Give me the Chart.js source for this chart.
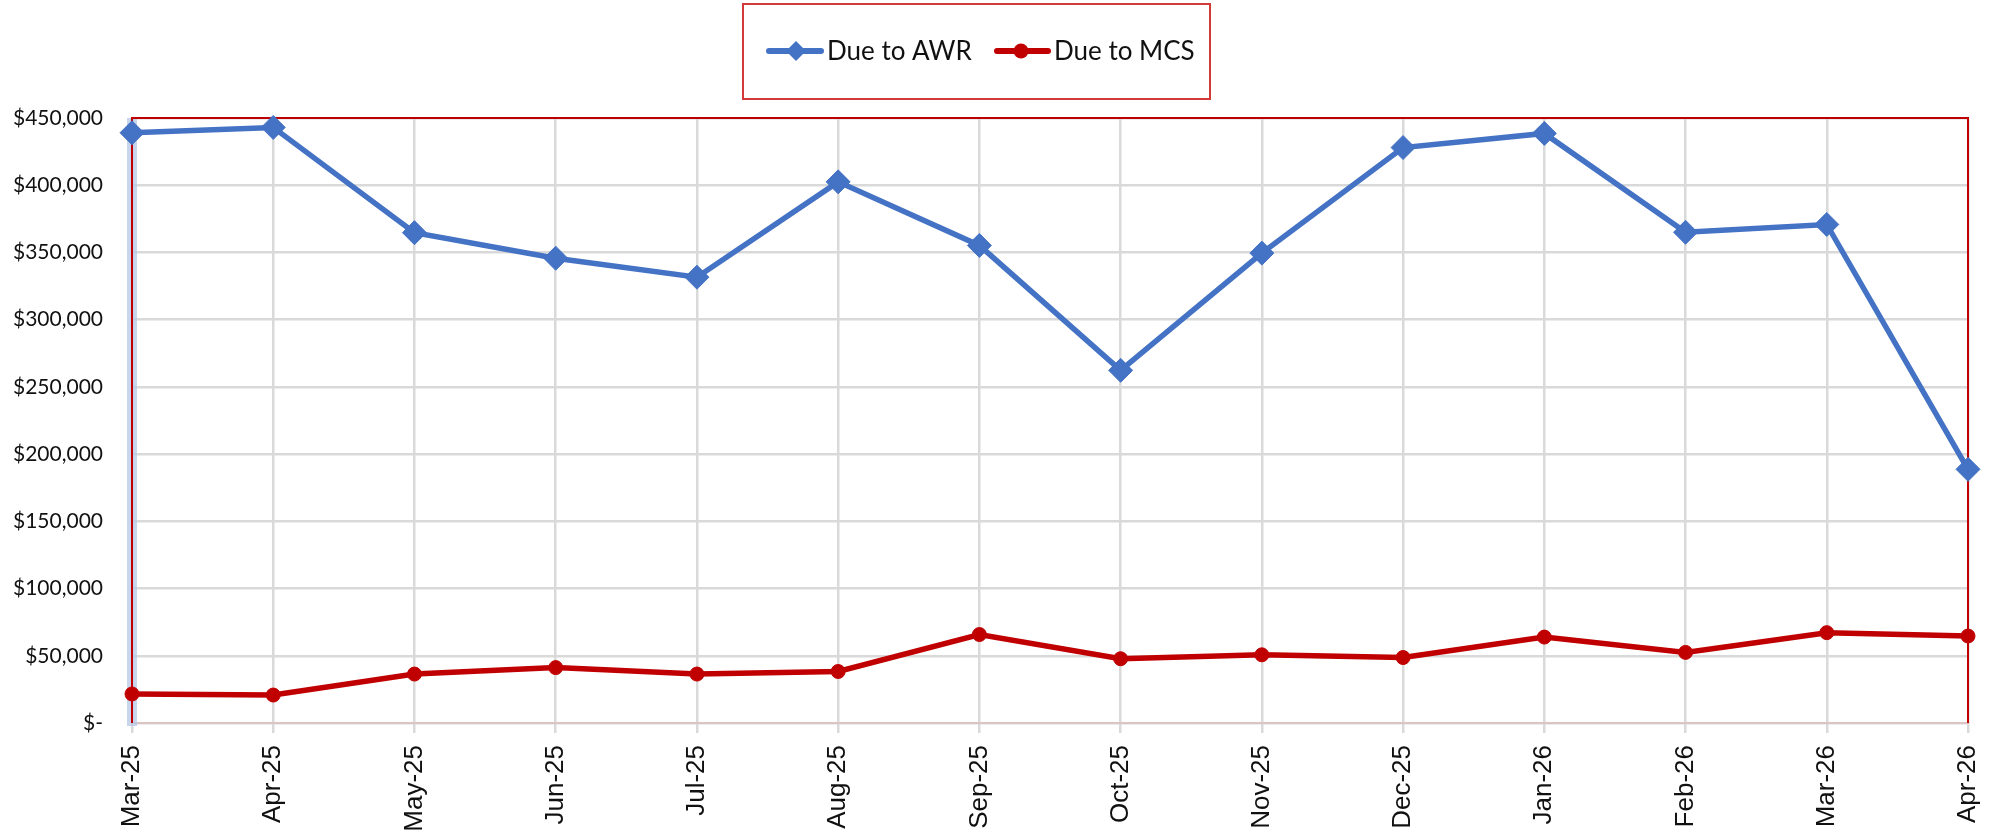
<!DOCTYPE html>
<html>
<head>
<meta charset="utf-8">
<script src="https://cdn.jsdelivr.net/npm/chart.js@4.4.1/dist/chart.umd.min.js"></script>
<style>
  html, body { margin: 0; padding: 0; background: #fff; }
  #wrap { width: 1994px; height: 834px; }
</style>
</head>
<body>
<div id="wrap"><canvas id="myChart" width="1994" height="834"></canvas></div>
<script>
// Maanden op de x-as
const months = ['Mar-25', 'Apr-25', 'May-25', 'Jun-25', 'Jul-25', 'Aug-25', 'Sep-25',
  'Oct-25', 'Nov-25', 'Dec-25', 'Jan-26', 'Feb-26', 'Mar-26', 'Apr-26'];

// Waarden
const dueAWR = [439000, 443000, 364700, 345700, 331600, 402500, 355200,
  262300, 349500, 428000, 438500, 365000, 370800, 188700];
const dueMCS = [21600, 20800, 36400, 41200, 36400, 38300, 65800,
  47800, 50700, 48700, 63900, 52500, 67200, 64700];

// Y-as labels
const yTickValues = [0, 50000, 100000, 150000, 200000, 250000, 300000, 350000, 400000, 450000];
const yTickLabels = ['$-', '$50,000', '$100,000', '$150,000', '$200,000', '$250,000',
  '$300,000', '$350,000', '$400,000', '$450,000'];

const seriesNames = ['Due to AWR', 'Due to MCS'];
const blue = '#4472C4';
const red = '#C00000';

// Rand om het plotgebied + blauwe selectiebalk links
const plotFrame = {
  id: 'plotFrame',
  beforeDatasetsDraw(chart) {
    const a = chart.chartArea;
    const ctx = chart.ctx;
    ctx.save();
    ctx.fillStyle = 'rgba(180,199,231,0.75)';
    ctx.fillRect(a.left - 5, a.top, 10, a.bottom - a.top + 3);
    ctx.strokeStyle = red;
    ctx.lineWidth = 2;
    ctx.beginPath();
    ctx.moveTo(a.left, a.bottom);
    ctx.lineTo(a.left, a.top);
    ctx.lineTo(a.right, a.top);
    ctx.lineTo(a.right, a.bottom);
    ctx.stroke();
    ctx.restore();
  }
};

// Eigen legenda met rode kader
const boxLegend = {
  id: 'boxLegend',
  afterDraw(chart) {
    const ctx = chart.ctx;
    ctx.save();
    ctx.strokeStyle = '#d23a3a';
    ctx.lineWidth = 2;
    ctx.strokeRect(743, 4, 467, 95);

    const y = 51;
    ctx.lineCap = 'round';
    ctx.lineWidth = 6;
    // AWR
    ctx.strokeStyle = blue;
    ctx.beginPath(); ctx.moveTo(769, y); ctx.lineTo(821, y); ctx.stroke();
    ctx.fillStyle = blue;
    ctx.beginPath();
    ctx.moveTo(796, y - 10); ctx.lineTo(806, y); ctx.lineTo(796, y + 10); ctx.lineTo(786, y);
    ctx.closePath(); ctx.fill();
    // MCS
    ctx.strokeStyle = red;
    ctx.beginPath(); ctx.moveTo(997, y); ctx.lineTo(1048, y); ctx.stroke();
    ctx.fillStyle = red;
    ctx.beginPath(); ctx.arc(1021, y, 7.5, 0, Math.PI * 2); ctx.fill();

    ctx.fillStyle = '#111';
    ctx.font = '26px Lato';
    ctx.textBaseline = 'middle';
    ctx.fillText(seriesNames[0], 827, y + 1);
    ctx.fillText(seriesNames[1], 1054, y + 1);
    ctx.restore();
  }
};

const config = {
  type: 'line',
  data: {
    labels: months,
    datasets: [{
      label: seriesNames[0],
      data: dueAWR,
      borderColor: blue,
      backgroundColor: blue,
      borderWidth: 5.5,
      pointStyle: 'rectRot',
      pointRadius: 12,
      pointBorderWidth: 1,
      tension: 0,
      clip: false
    }, {
      label: seriesNames[1],
      data: dueMCS,
      borderColor: red,
      backgroundColor: red,
      borderWidth: 5.5,
      pointStyle: 'circle',
      pointRadius: 7,
      pointBorderWidth: 1,
      tension: 0,
      clip: false
    }]
  },
  options: {
    responsive: false,
    animation: false,
    devicePixelRatio: 1,
    layout: { padding: { top: 118, right: 26, left: 0, bottom: 0 } },
    plugins: {
      legend: { display: false },
      tooltip: { enabled: false }
    },
    scales: {
      x: {
        offset: false,
        grid: { color: '#d9d9d9', lineWidth: 2.5, drawTicks: true, tickLength: 10, tickColor: '#d9d9d9' },
        border: { color: '#dcc4c4', width: 2 },
        ticks: {
          autoSkip: false,
          minRotation: 90,
          maxRotation: 90,
          padding: 12,
          color: '#111',
          font: { family: 'Liberation Sans', size: 26 }
        },
        afterFit(scale) {
          scale.height = 111;
          scale.paddingLeft = 0;
          scale.paddingRight = 0;
        }
      },
      y: {
        min: 0,
        max: 450000,
        afterBuildTicks(scale) {
          scale.ticks = yTickValues.map(v => ({ value: v }));
        },
        grid: { color: '#d9d9d9', lineWidth: 2.5, drawTicks: false },
        border: { display: false },
        ticks: {
          padding: 29,
          color: '#111',
          font: { family: 'Lato', size: 21 },
          callback: function(value) {
            return yTickLabels[yTickValues.indexOf(value)];
          }
        },
        afterFit(scale) {
          scale.width = 132;
          scale.paddingTop = 0;
          scale.paddingBottom = 0;
        }
      }
    }
  },
  plugins: [plotFrame, boxLegend]
};

const myChart = new Chart(document.getElementById('myChart'), config);
</script>
</body>
</html>
